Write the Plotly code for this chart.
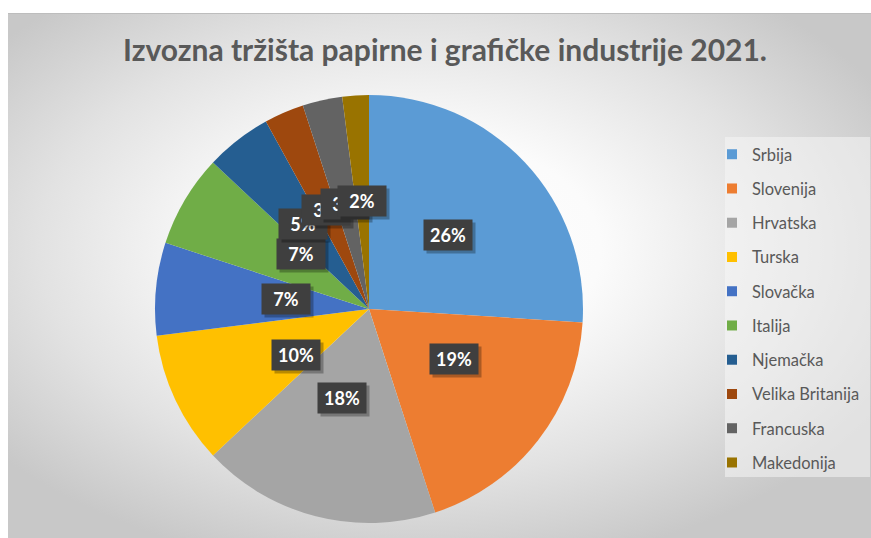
import math, base64
import plotly.graph_objects as go

# ---- data ----
countries = ["Srbija", "Slovenija", "Hrvatska", "Turska", "Slovačka", "Italija",
             "Njemačka", "Velika Britanija", "Francuska", "Makedonija"]
shares = [26, 19, 18, 10, 7, 7, 5, 3, 3, 2]
colors = ["#5B9BD5", "#ED7D31", "#A5A5A5", "#FFC000", "#4472C4", "#70AD47",
          "#255E91", "#9E480E", "#636363", "#997300"]
title_text = "Izvozna tržišta papirne i grafičke industrije 2021."

FONT = "Lato"
OFF = 0  # page body margin removed via post_script
W_FIG, H_FIG = 871, 538
ML, MT, MR, MB = 8, 13, 0, 0
W = W_FIG - ML - MR
H = H_FIG - MT - MB


def px_x(page_x):
    return (page_x - OFF - ML) / W


def px_y(page_y):
    return 1 - (page_y - OFF - MT) / H


# pie geometry
cx, cy = px_x(369), px_y(309)
r_px = 214
dom_x = [cx - r_px / W, cx + r_px / W]
dom_y = [cy - r_px / H, cy + r_px / H]

fig = go.Figure()
fig.add_trace(go.Pie(
    labels=countries, values=shares, sort=False, direction="clockwise", rotation=0,
    marker=dict(colors=colors, line=dict(width=0)),
    textinfo="none", hoverinfo="label+percent", showlegend=False,
    domain=dict(x=dom_x, y=dom_y),
))

# legend via dummy traces (to control spacing)
for c, col in zip(countries, colors):
    fig.add_trace(go.Scatter(
        x=[None], y=[None], mode="markers", name=c, legendgroup=c,
        marker=dict(symbol="square", size=10, color=col),
    ))

# data labels as boxed annotations
total = sum(shares)
annotations = []
cum = 0
lab_r = 108
for v in shares:
    mid = (cum + v / 2) / total * 2 * math.pi
    cum += v
    ax = cx + lab_r * math.sin(mid) / W
    ay = cy + lab_r * math.cos(mid) / H
    annotations.append(dict(
        x=ax, y=ay, xref="paper", yref="paper", text=" ", showarrow=False,
        width=46, height=28, bgcolor="rgba(0,0,0,0.28)", xshift=3, yshift=-3,
    ))
    annotations.append(dict(
        x=ax, y=ay, xref="paper", yref="paper", text=f"<b>{v}%</b>", showarrow=False,
        width=46, height=28, bgcolor="#3f3f3f",
        font=dict(family=FONT, size=18, color="white"),
    ))

# radial gradient background
svg = """<svg xmlns='http://www.w3.org/2000/svg' width='863' height='525' viewBox='0 0 863 525' preserveAspectRatio='none'>
<defs><radialGradient id='g' cx='0.47' cy='0.45' r='0.62'>
<stop offset='0' stop-color='#ffffff'/>
<stop offset='0.35' stop-color='#fbfbfb'/>
<stop offset='0.7' stop-color='#e2e2e2'/>
<stop offset='1' stop-color='#c8c8c8'/>
</radialGradient></defs>
<rect width='863' height='525' fill='url(#g)'/>
<line x1='0' y1='0.5' x2='863' y2='0.5' stroke='#bdbdbd' stroke-width='1'/>
</svg>"""
src = "data:image/svg+xml;base64," + base64.b64encode(svg.encode()).decode()

fig.update_layout(
    width=W_FIG, height=H_FIG,
    margin=dict(l=ML, r=MR, t=MT, b=MB),
    paper_bgcolor="white", plot_bgcolor="rgba(0,0,0,0)",
    xaxis=dict(visible=False), yaxis=dict(visible=False),
    images=[dict(source=src, xref="paper", yref="paper", x=0, y=1, sizex=1, sizey=1,
                 sizing="stretch", layer="below", xanchor="left", yanchor="top")],
    shapes=[dict(type="rect", xref="paper", yref="paper", layer="below",
                 x0=px_x(725), x1=px_x(870), y0=px_y(477), y1=px_y(137),
                 fillcolor="rgba(246,246,246,0.55)", line=dict(width=0))],
    title=dict(text=f"<b>{title_text}</b>", x=(445 - OFF) / W_FIG, xanchor="center",
               y=1 - (50 - OFF) / H_FIG, yanchor="middle", yref="container",
               font=dict(family=FONT, size=30, color="#595959")),
    legend=dict(x=px_x(712), y=px_y(137), xanchor="left", yanchor="top",
                traceorder="grouped", tracegroupgap=9.8, itemwidth=30,
                bgcolor="rgba(0,0,0,0)",
                font=dict(family=FONT, size=16.5, color="#595959")),
    annotations=annotations,
)

fig.write_html(
    "out.html",
    config={"displayModeBar": False},
    post_script="document.body.style.margin='0';document.body.style.overflow='hidden';",
)
